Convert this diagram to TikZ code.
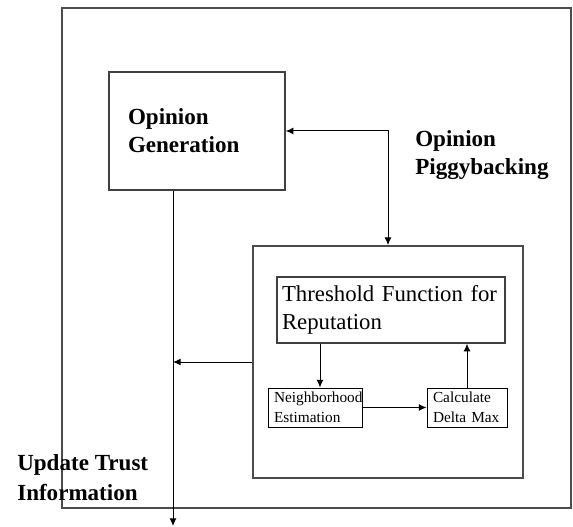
\documentclass[tikz,border=0pt]{standalone}
\usepackage{fontspec}
\setmainfont{Liberation Serif}
\usepackage{tikz}
\usetikzlibrary{arrows.meta, positioning, calc}

\begin{document}
\begin{tikzpicture}[
  frame/.style={draw=black!70, line width=1.3pt},
  bigbox/.style={draw=black!75, line width=1pt, align=left, inner ysep=0pt},
  smallbox/.style={draw, line width=0.7pt, align=left, inner ysep=0pt, inner xsep=0.15cm, text width=2.05cm,
    font=\fontsize{10.9}{14.2}\selectfont},
  label/.style={align=left, inner sep=0pt, font=\fontsize{16.4}{20}\selectfont\bfseries},
  arrow/.style={-{Latex[length=5.5pt, width=5pt]}, line width=0.7pt},
  biarrow/.style={{Latex[length=5.5pt, width=5pt]}-{Latex[length=5.5pt, width=5pt]}, line width=0.7pt}
]
\useasboundingbox (0,0) rectangle (14.325,13.175);

% outer frame and inner block
\node[frame, minimum width=12.725cm, minimum height=12.5cm] (outer) at (7.9125, 6.725) {};
\node[frame, minimum width=6.75cm, minimum height=5.8cm] (inner) at (9.7, 4.125) {};

\node[bigbox, minimum width=4.4cm, minimum height=2.95cm, inner xsep=0.475cm, text width=3.45cm,
  font=\fontsize{16.4}{20}\selectfont\bfseries] (opgen) at (4.925, 9.9) {Opinion\\Generation};

\node[bigbox, minimum width=5.7cm, minimum height=1.65cm, inner xsep=0.125cm, text width=5.45cm,
  font=\fontsize{16.2}{19.4}\selectfont] (thresh) at (9.775, 5.425) {Threshold Function for\\Reputation};

\node[smallbox, minimum height=0.975cm] (nbhd) at (7.875, 2.9875) {Neighborhood\\Estimation};
\node[smallbox, minimum height=0.975cm, text width=1.7cm] (delta) at (11.675, 2.9875) {Calculate\\Delta Max};

\node[label, anchor=west] (piggy) at (10.375, 9.3) {Opinion\\Piggybacking};
\node[label, anchor=west, font=\fontsize{16.4}{21.3}\selectfont\bfseries] (update) at (0.425, 1.225) {Update Trust\\Information};

\coordinate (out) at (4.325, 0.025);

\draw[biarrow] (opgen.east) -| (inner.north);
\draw[arrow] (thresh.south -| 8.0,0) -- (nbhd.north -| 8.0,0);
\draw[arrow] (nbhd.east) -- (delta.west);
\draw[arrow] (delta.north) -- (delta.north |- thresh.south);

% feedback into the update line
\draw[arrow] (inner.west) -- (inner.west -| out);
\draw[arrow] (opgen.south -| out) -- (out);
\end{tikzpicture}
\end{document}
